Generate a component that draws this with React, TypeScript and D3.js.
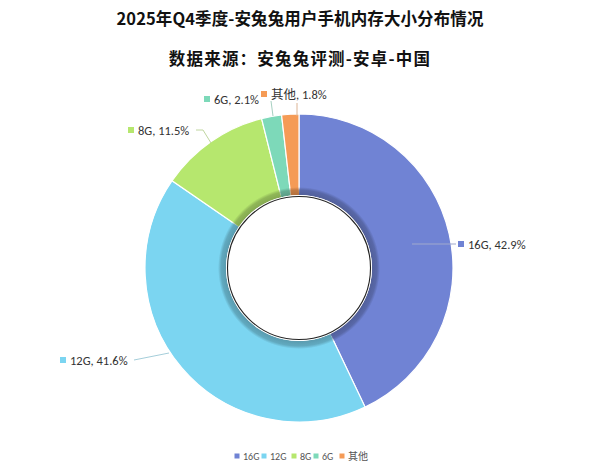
import React from "react";
import * as d3 from "d3";

const categories = ["16G", "12G", "8G", "6G", "其他"];
const shares = [42.9, 41.6, 11.5, 2.1, 1.8];
const colors = ["#7083d4", "#7bd5f1", "#b6e76e", "#7dd9b9", "#f59b56"];
const titleLines = ["2025年Q4季度-安兔兔用户手机内存大小分布情况", "数据来源：安兔兔评测-安卓-中国"];

// layout (label markers and leader lines)
const labelMarkers: [number, number][] = [
  [461, 244],
  [63, 360],
  [131, 130],
  [207, 99],
  [264, 94],
];
const leaderLines: [number, number][][] = [
  [[412, 244], [456, 244]],
  [[134, 360], [169, 353]],
  [[196, 130], [203, 130], [211, 143]],
  [[271, 101], [273, 116]],
  [[297, 103], [297, 116]],
];

const W = 600;
const H = 472;
const CX = 299;
const CY = 268;
const R = 154;
const R_IN = 73;
const SH = 8;

export default function App() {
  const pie = d3
    .pie<number>()
    .sort(null)
    .value((d) => d)(shares);
  const arc = d3.arc<d3.PieArcDatum<number>>().innerRadius(R_IN).outerRadius(R);
  const shadowArc = d3.arc<d3.PieArcDatum<number>>().innerRadius(R_IN).outerRadius(R_IN + SH);
  const line = d3.line();
  const font = "'Noto Sans CJK SC', 'Noto Sans', sans-serif";
  const labelFont = "Calibri, 'Liberation Sans', 'Noto Sans CJK SC', sans-serif";

  const legendX = [237, 264, 294, 316, 342];

  return (
    <svg
      width={W}
      height={H}
      style={{ position: "fixed", left: 0, top: 0, background: "#fff" }}
      fontFamily={font}
    >
      <defs>
        {colors.map((c, i) => {
          const dk = d3.color(c)!.darker(0.9).formatHex();
          return (
            <radialGradient key={i} id={"sh" + i} gradientUnits="userSpaceOnUse" cx={0} cy={0} r={R_IN + SH}>
              <stop offset={R_IN / (R_IN + SH)} stopColor={dk} stopOpacity={1} />
              <stop offset={(R_IN + 5) / (R_IN + SH)} stopColor={dk} stopOpacity={0.75} />
              <stop offset={1} stopColor={dk} stopOpacity={0} />
            </radialGradient>
          );
        })}
      </defs>
      {titleLines.map((t, i) => (
        <text
          key={t}
          x={W / 2}
          y={18 + i * 40}
          textAnchor="middle"
          dominantBaseline="central"
          fontSize={16.5}
          fontWeight="bold"
          fill="#111"
          letterSpacing={i === 1 ? 1.2 : 0.1}
        >
          {t}
        </text>
      ))}
      <g transform={`translate(${CX},${CY})`}>
        {pie.map((p, i) => (
          <path key={categories[i]} d={arc(p) || ""} fill={colors[i]} stroke="#fff" strokeWidth={1.2} />
        ))}
        {pie.map((p, i) => (
          <path key={"s" + i} d={shadowArc(p) || ""} fill={`url(#sh${i})`} />
        ))}
        <circle r={R_IN} fill="#fff" />
        <circle r={R_IN - 1.5} fill="#fff" stroke="#222" strokeWidth={1.1} />
      </g>
      {leaderLines.map((pts, i) => (
        <path
          key={"l" + i}
          d={line(pts) || ""}
          fill="none"
          stroke={d3.interpolateRgb(colors[i], "#c8c8c8")(0.55)}
          strokeWidth={1}
        />
      ))}
      {labelMarkers.map(([x, y], i) => (
        <g key={"lab" + i}>
          <rect x={x - 3} y={y - 3} width={6} height={6} fill={colors[i]} />
          <text x={x + 7} y={y} dominantBaseline="central" fontSize={12.5} fill="#333" fontFamily={labelFont}>
            {`${categories[i]}, ${shares[i].toFixed(1)}%`}
          </text>
        </g>
      ))}
      {categories.map((c, i) => (
        <g key={"leg" + i}>
          <rect x={legendX[i] - 2.5} y={453.5} width={5} height={5} fill={colors[i]} />
          <text x={legendX[i] + 6} y={456} dominantBaseline="central" fontSize={10} fill="#555" fontFamily={labelFont}>
            {c}
          </text>
        </g>
      ))}
    </svg>
  );
}
